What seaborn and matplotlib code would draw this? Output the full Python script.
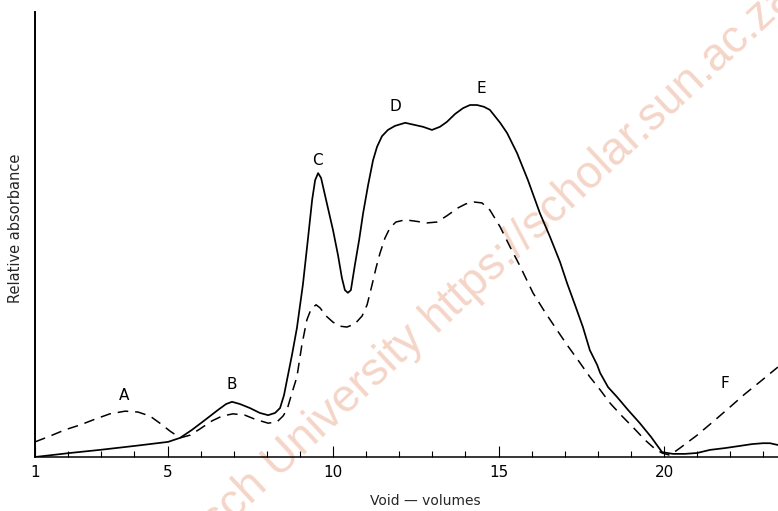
import matplotlib
matplotlib.use("Agg")
import matplotlib.pyplot as plt
import seaborn as sns
import pandas as pd

# Elution profile: void volumes vs relative absorbance (solid and dashed traces)
solid_x = [1.00, 2.05, 2.96, 4.02, 5.02, 5.38, 5.74, 6.13, 6.53, 6.77, 6.95, 7.19,
           7.49, 7.79, 8.04, 8.25, 8.40, 8.52, 8.61, 8.76, 8.91, 9.09, 9.24, 9.37,
           9.46, 9.55, 9.64, 9.79, 10.00, 10.15, 10.27, 10.36, 10.45, 10.54, 10.66,
           10.79, 10.91, 11.06, 11.21, 11.33, 11.48, 11.66, 11.87, 12.18, 12.48,
           12.72, 12.99, 13.23, 13.44, 13.69, 13.93, 14.14, 14.35, 14.56, 14.74,
           15.05, 15.26, 15.56, 15.89, 16.25, 16.56, 16.86, 17.07, 17.31, 17.55,
           17.76, 17.98, 18.07, 18.31, 18.58, 18.91, 19.27, 19.61, 19.94, 20.27,
           20.63, 21.00, 21.39, 21.84, 22.30, 22.66, 22.99, 23.20, 23.44]
solid_y = [0.0, 0.9, 1.6, 2.5, 3.4, 4.3, 6.1, 8.3, 10.6, 11.9, 12.4, 11.9,
           11.0, 9.9, 9.4, 9.9, 11.0, 13.9, 17.3, 22.9, 29.0, 38.7, 48.8, 57.8,
           62.2, 63.8, 62.7, 57.8, 51.0, 45.4, 40.2, 37.5, 36.9, 37.5, 43.1,
           48.8, 54.8, 61.1, 66.7, 69.7, 72.1, 73.5, 74.4, 75.1, 74.6,
           74.2, 73.5, 74.2, 75.3, 77.1, 78.4, 79.1, 79.1, 78.7, 78.0,
           75.1, 72.8, 68.3, 62.2, 54.8, 49.4, 43.8, 39.1, 34.2, 29.2,
           24.0, 20.7, 18.9, 15.7, 13.5, 10.6, 7.6, 4.5, 1.1, 0.7,
           0.7, 0.9, 1.6, 2.0, 2.5, 2.9, 3.1, 3.1, 2.7]

dashed_x = [1.00, 1.45, 1.90, 2.36, 2.81, 3.26, 3.72, 4.11, 4.47, 4.77, 5.08, 5.38,
            5.68, 5.98, 6.34, 6.65, 6.98, 7.34, 7.64, 8.04, 8.31, 8.49, 8.61, 8.76,
            8.91, 9.06, 9.21, 9.34, 9.49, 9.61, 9.79, 10.00, 10.21, 10.42, 10.66,
            10.88, 11.03, 11.18, 11.30, 11.42, 11.57, 11.72, 11.90, 12.18, 12.48,
            12.84, 13.14, 13.44, 13.78, 14.02, 14.26, 14.50, 14.74, 15.05, 15.35,
            15.65, 16.04, 16.40, 16.77, 17.07, 17.40, 17.76, 18.07, 18.37, 18.73,
            19.06, 19.43, 19.73, 19.94, 20.18, 20.48, 21.00, 21.54, 21.99, 22.45,
            22.90, 23.44]
dashed_y = [3.4, 4.7, 6.1, 7.2, 8.5, 9.7, 10.3, 10.1, 9.2, 7.6, 5.8, 4.3,
            4.9, 6.3, 8.1, 9.2, 9.7, 9.4, 8.5, 7.6, 7.9, 9.2, 10.6, 14.4,
            18.0, 25.2, 30.8, 33.3, 34.2, 33.5, 31.7, 30.3, 29.4, 29.2, 29.9,
            31.7, 34.2, 38.7, 42.5, 45.8, 49.2, 51.5, 52.8, 53.3, 53.0,
            52.6, 52.8, 54.2, 56.0, 56.9, 57.3, 57.1, 55.5, 51.7, 47.2,
            42.9, 36.9, 32.6, 28.5, 25.2, 21.8, 18.0, 15.1, 12.1, 9.2,
            6.7, 3.8, 1.8, 0.9, 0.4, 2.0, 4.9, 8.3, 11.2, 14.2,
            16.9, 20.2]

peak_names = ["A", "B", "C", "D", "E", "F"]
peak_label_x = [3.69, 6.95, 9.52, 11.87, 14.47, 21.84]
peak_label_y = [13.9, 16.2, 66.7, 78.7, 82.9, 16.6]

major_ticks = [1, 5, 10, 15, 20]
major_labels = ["1", "5", "10", "15", "20"]
minor_ticks = list(range(2, 24))

solid_df = pd.DataFrame({"volume": solid_x, "absorbance": solid_y})
dashed_df = pd.DataFrame({"volume": dashed_x, "absorbance": dashed_y})

sns.set_style("ticks")
plt.rcParams["font.family"] = ["DejaVu Sans"]

W, H = 778, 511
fig = plt.figure(figsize=(W / 100, H / 100), dpi=100)
ax = fig.add_axes([35 / W, 54 / H, 743 / W, 445 / H])
ax.set_facecolor("none")

sns.lineplot(data=solid_df, x="volume", y="absorbance", ax=ax, color="black",
             linewidth=1.25, sort=False, estimator=None)
sns.lineplot(data=dashed_df, x="volume", y="absorbance", ax=ax, color="black",
             linewidth=1.1, sort=False, estimator=None)
ax.lines[-1].set_dashes((7, 4.5))
for ln in ax.lines:
    ln.set_solid_joinstyle("round")
    ln.set_dash_joinstyle("round")

ax.set_xlim(0.997, 23.444)
ax.set_ylim(0, 100)

for name, px, py in zip(peak_names, peak_label_x, peak_label_y):
    ax.text(px, py, name, ha="center", va="center", fontsize=11, color="black")

for side in ("top", "right"):
    ax.spines[side].set_visible(False)
ax.spines["left"].set_linewidth(1.4)
ax.spines["bottom"].set_linewidth(1.1)
ax.spines["left"].set_color("black")
ax.spines["bottom"].set_color("black")

ax.set_xticks(major_ticks)
ax.set_xticklabels(major_labels)
ax.set_xticks(minor_ticks, minor=True)
ax.tick_params(axis="x", which="major", direction="in", length=8, width=0.8,
               pad=6, labelsize=11, colors="black")
ax.tick_params(axis="x", which="minor", direction="in", length=4.5, width=0.8,
               colors="black")
ax.set_yticks([])

ax.set_xlabel("Void — volumes", fontsize=10)
ax.xaxis.set_label_coords(0.525, -0.083)
ax.set_ylabel("Relative absorbance", fontsize=10.5)
ax.yaxis.set_label_coords(-0.016, 0.515)

# Repository watermark running diagonally across the sheet
wm_color = "#f4d5c8"
fig.text(436 / W, (H - 333) / H, "https://scholar.sun.ac.za", rotation=43,
         rotation_mode="anchor", ha="left", va="baseline", fontsize=33,
         family="Liberation Sans", color=wm_color, zorder=-5)
fig.text(426 / W, (H - 342) / H, "Stellenbosch University", rotation=43,
         rotation_mode="anchor", ha="right", va="baseline", fontsize=33,
         family="Liberation Sans", color=wm_color, zorder=-5)

fig.savefig("out.png", dpi=100, facecolor="white")
